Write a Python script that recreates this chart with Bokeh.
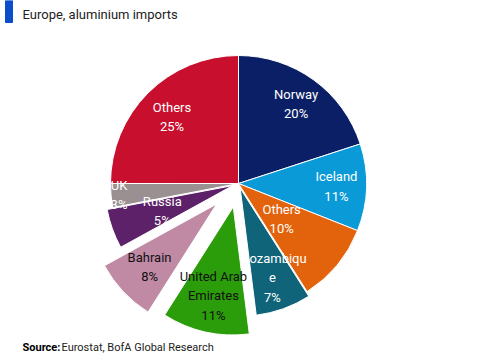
import numpy as np
from bokeh.plotting import figure
from bokeh.models import ColumnDataSource, Range1d
from bokeh.core.properties import value
from bokeh.embed import file_html
from bokeh.resources import INLINE

# ---- data ----
categories = ["Norway", "Iceland", "Others", "Mozambique", "United Arab Emirates",
              "Bahrain", "Russia", "UK", "Others"]
display_names = ["Norway", "Iceland", "Others", "Mozambiqu\ne", "United Arab\nEmirates",
                 "Bahrain", "Russia", "UK", "Others"]
shares = [20, 11, 10, 7, 11, 8, 5, 3, 25]

# ---- styles ----
colors = ["#0B1F66", "#0A9AD8", "#E2630B", "#0F6479", "#2B9C0A",
          "#C08AA5", "#5C2168", "#9A9091", "#C8102E"]
label_colors = ["white", "white", "white", "white", "#111111",
                "#111111", "white", "white", "white"]
explode = [0, 0, 0, 5, 24, 30, 6, 0, 0]
label_r = [98, 98, 56, 95, 91, 92, 75, 120, 94]

W, H = 481, 360
CX, CY = 238, H - 183
R = 128
FONT = "Roboto"

vals = np.array(shares, dtype=float)
frac = vals / vals.sum()
end = np.cumsum(frac)
start = end - frac
mid = 2 * np.pi * (start + end) / 2
ex = np.array(explode, dtype=float)
cx = CX + ex * np.sin(mid)
cy = CY + ex * np.cos(mid)
lr = np.array(label_r, dtype=float)
lx = cx + lr * np.sin(mid)
ly = cy + lr * np.cos(mid)

src = ColumnDataSource(dict(
    x=cx, y=cy,
    start=np.pi / 2 - 2 * np.pi * end,
    end=np.pi / 2 - 2 * np.pi * start,
    color=colors,
    lx=lx, ly=ly,
    label=[f"{n}\n{s}%" for n, s in zip(display_names, shares)],
    lcolor=label_colors,
))

p = figure(width=W, height=H, output_backend="svg", toolbar_location=None,
           x_range=Range1d(0, W), y_range=Range1d(0, H),
           min_border=0, outline_line_color=None)
p.axis.visible = False
p.grid.visible = False

def sub(idx):
    d = {k: [src.data[k][i] for i in idx] for k in src.data}
    return ColumnDataSource(d)

for group in ([0, 1, 2, 3], [4, 5, 6, 7, 8]):
    s = sub(group)
    p.wedge(x="x", y="y", radius=R, start_angle="start", end_angle="end",
            fill_color="color", line_color="white", line_width=1, source=s)
    p.text(x="lx", y="ly", text="label", text_color="lcolor", source=s,
           text_align="center", text_baseline="middle",
           text_font=value(FONT), text_font_size="13px", text_line_height=1.3)

# title bar and subtitle
p.quad(left=[5], right=[12], top=[H], bottom=[H - 22], color="#0C4DCB")
p.text(x=[22], y=[H - 14], text=["Europe, aluminium imports"], text_color="#222222",
       text_font=value(FONT), text_font_size="13px", text_baseline="middle")

# source
p.text(x=[22], y=[H - 347], text=["Source:"], text_color="#000000", text_font_style="bold",
       text_font=value(FONT), text_font_size="11px", text_baseline="middle")
p.text(x=[61], y=[H - 347], text=["Eurostat, BofA Global Research"], text_color="#222222",
       text_font=value(FONT), text_font_size="11px", text_baseline="middle")

open("out.html", "w").write(file_html(p, INLINE))
